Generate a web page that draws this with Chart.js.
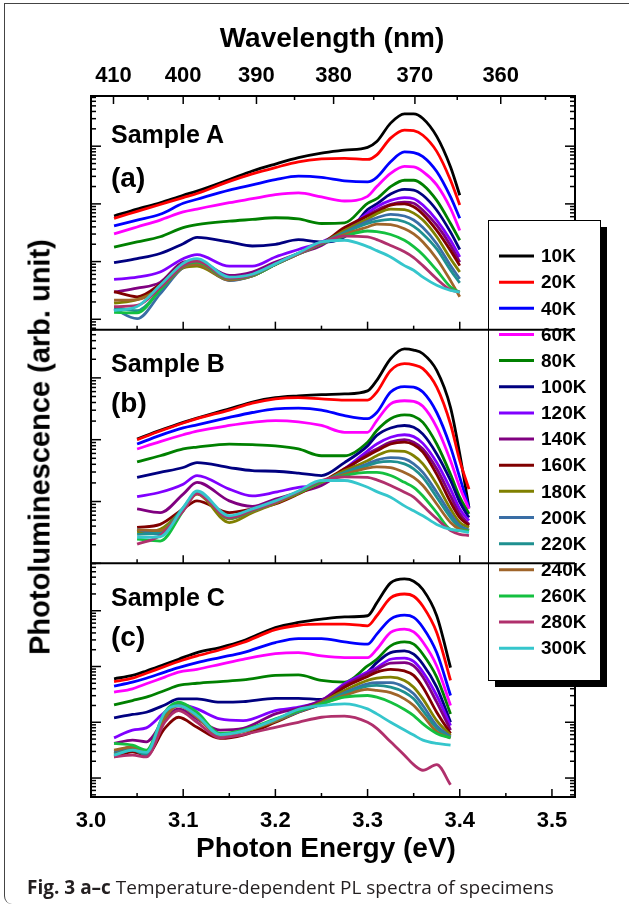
<!DOCTYPE html>
<html>
<head>
<meta charset="utf-8">
<script src="https://cdn.jsdelivr.net/npm/chart.js@4.4.0/dist/chart.umd.min.js"></script>
<style>
  html, body { margin: 0; padding: 0; background: #fff; }
  #wrap { position: relative; width: 629px; height: 910px; overflow: hidden; font-family: "Liberation Sans", Arial, sans-serif; }
  #plot { position: absolute; left: 0; top: 0; }
  .t { position: absolute; font-weight: bold; color: #000; white-space: nowrap; transform: translate(-50%, -50%); }
  .lab { position: absolute; font-weight: bold; color: #000; white-space: nowrap; transform: translateY(-50%); }
  #frame { position: absolute; left: 4px; top: 3px; width: 700px; height: 900px; border-left: 1.5px solid #444; border-top: 1.5px solid #444; border-bottom-left-radius: 8px; }
  #caption { position: absolute; left: 27px; top: 887px; transform: translateY(-50%); font-family: "Open Sans", "Noto Sans", sans-serif; font-size: 19px; color: #231f20; white-space: nowrap; }
</style>
</head>
<body>
<div id="wrap">
  <div id="frame"></div>
  <canvas id="plot" width="629" height="910"></canvas>
  <div class="t" style="left:332px; top:38px; font-size:28px;">Wavelength (nm)</div>
  <div class="t" style="left:326px; top:848px; font-size:28px;">Photon Energy (eV)</div>
  <div class="t" style="left:40px; top:447px; font-size:29px; transform: translate(-50%, -50%) rotate(-90deg);">Photoluminescence (arb. unit)</div>
  <div class="lab" style="left:111px; top:134px; font-size:25px;">Sample A</div>
  <div class="lab" style="left:111px; top:178px; font-size:28px;">(a)</div>
  <div class="lab" style="left:111px; top:363px; font-size:25px;">Sample B</div>
  <div class="lab" style="left:111px; top:403px; font-size:28px;">(b)</div>
  <div class="lab" style="left:111px; top:597px; font-size:25px;">Sample C</div>
  <div class="lab" style="left:111px; top:637px; font-size:28px;">(c)</div>
  <div id="caption"><b>Fig. 3</b> <b>a–c</b> Temperature-dependent PL spectra of specimens</div>
</div>
<script>
// temperatures and line colours (legend order)
const temps = ['10K', '20K', '40K', '60K', '80K', '100K', '120K', '140K', '160K', '180K', '200K', '220K', '240K', '260K', '280K', '300K'];
const colors = ['#000000', '#ff0000', '#0000ff', '#ff00ff', '#008000', '#000080', '#8000ff', '#800080',
                '#800000', '#808000', '#3a6ea5', '#1f9090', '#a0652a', '#14c040', '#b0306c', '#35c6cc'];

// axis ticks
const energyTicks = [3.0, 3.1, 3.2, 3.3, 3.4, 3.5];
const wavelengthTicks = [410, 400, 390, 380, 370, 360];

// photon energy (eV) of the read points, one list per sample
const energyA = [3.025, 3.05, 3.075, 3.10, 3.115, 3.15, 3.175, 3.20, 3.225, 3.25, 3.275, 3.30, 3.31, 3.325, 3.34, 3.35, 3.36, 3.375, 3.39, 3.40];
const energyB = [3.05, 3.075, 3.10, 3.115, 3.15, 3.175, 3.20, 3.225, 3.25, 3.275, 3.30, 3.31, 3.325, 3.34, 3.35, 3.36, 3.375, 3.39, 3.40, 3.41];
const energyC = [3.025, 3.045, 3.06, 3.08, 3.095, 3.115, 3.14, 3.165, 3.20, 3.225, 3.25, 3.275, 3.30, 3.31, 3.325, 3.34, 3.35, 3.36, 3.375, 3.39];

// log10 of PL intensity (arb. unit), one row per temperature
const sampleA = [
  [2.79, 2.91, 3.02, 3.15, 3.22, 3.42, 3.57, 3.69, 3.80, 3.88, 3.93, 3.98, 4.08, 4.40, 4.56, 4.56, 4.48, 4.17, 3.64, 3.15], // 10K
  [2.75, 2.87, 2.99, 3.11, 3.18, 3.39, 3.52, 3.63, 3.73, 3.78, 3.79, 3.77, 3.85, 4.14, 4.28, 4.27, 4.19, 3.91, 3.41, 2.98], // 20K
  [2.62, 2.72, 2.82, 3.01, 3.08, 3.24, 3.33, 3.42, 3.48, 3.46, 3.40, 3.38, 3.46, 3.73, 3.90, 3.89, 3.82, 3.56, 3.12, 2.75], // 40K
  [2.48, 2.60, 2.72, 2.86, 2.91, 3.02, 3.09, 3.16, 3.19, 3.12, 3.05, 3.13, 3.30, 3.53, 3.65, 3.64, 3.56, 3.33, 2.92, 2.54], // 60K
  [2.25, 2.34, 2.43, 2.59, 2.64, 2.70, 2.73, 2.76, 2.74, 2.66, 2.67, 3.01, 3.09, 3.30, 3.41, 3.41, 3.33, 3.06, 2.66, 2.37], // 80K
  [1.98, 2.05, 2.14, 2.31, 2.42, 2.34, 2.27, 2.30, 2.38, 2.34, 2.43, 2.90, 3.00, 3.17, 3.25, 3.24, 3.15, 2.89, 2.51, 2.21], // 100K
  [1.69, 1.73, 1.82, 2.05, 2.12, 1.92, 1.92, 2.08, 2.21, 2.34, 2.54, 2.84, 2.95, 3.06, 3.11, 3.09, 2.98, 2.72, 2.37, 2.08], // 120K
  [1.47, 1.54, 1.64, 1.99, 2.01, 1.76, 1.82, 1.99, 2.14, 2.28, 2.54, 2.80, 2.89, 2.99, 3.03, 3.01, 2.89, 2.63, 2.28, 1.99], // 140K
  [1.48, 1.39, 1.61, 1.95, 1.97, 1.72, 1.77, 1.95, 2.14, 2.31, 2.59, 2.79, 2.86, 2.98, 3.00, 2.95, 2.82, 2.54, 2.19, 1.93], // 160K
  [1.28, 1.34, 1.54, 1.89, 1.92, 1.68, 1.75, 1.95, 2.13, 2.31, 2.54, 2.74, 2.83, 2.91, 2.90, 2.84, 2.72, 2.43, 2.05, 1.82], // 180K
  [1.18, 1.01, 1.44, 1.90, 1.96, 1.67, 1.75, 1.95, 2.13, 2.31, 2.51, 2.70, 2.76, 2.82, 2.79, 2.72, 2.59, 2.31, 1.93, 1.70], // 200K
  [1.21, 1.15, 1.50, 1.93, 1.99, 1.70, 1.76, 1.95, 2.14, 2.31, 2.50, 2.66, 2.70, 2.73, 2.69, 2.61, 2.48, 2.22, 1.85, 1.63], // 220K
  [1.33, 1.34, 1.53, 1.90, 1.95, 1.68, 1.75, 1.95, 2.13, 2.31, 2.47, 2.60, 2.65, 2.64, 2.57, 2.48, 2.34, 2.05, 1.67, 1.39], // 240K
  [1.12, 1.11, 1.51, 1.92, 1.99, 1.70, 1.76, 1.95, 2.14, 2.31, 2.44, 2.53, 2.52, 2.47, 2.37, 2.26, 2.12, 1.85, 1.56, 1.47], // 260K
  [1.22, 1.24, 1.55, 1.93, 2.01, 1.71, 1.77, 1.96, 2.14, 2.32, 2.44, 2.43, 2.38, 2.28, 2.17, 2.07, 1.93, 1.70, 1.51, 1.47], // 280K
  [1.15, 1.22, 1.59, 1.97, 2.05, 1.73, 1.78, 1.96, 2.15, 2.34, 2.37, 2.26, 2.19, 2.08, 1.93, 1.85, 1.73, 1.59, 1.50, 1.47]  // 300K
];

const sampleB = [
  [3.01, 3.15, 3.28, 3.35, 3.50, 3.61, 3.68, 3.71, 3.73, 3.74, 3.79, 3.96, 4.31, 4.47, 4.45, 4.39, 4.12, 3.52, 2.77, 1.90], // 10K
  [3.00, 3.14, 3.27, 3.34, 3.48, 3.59, 3.66, 3.68, 3.66, 3.64, 3.64, 3.77, 4.12, 4.23, 4.21, 4.15, 3.85, 3.25, 2.66, 2.20], // 20K
  [2.93, 3.07, 3.19, 3.24, 3.36, 3.44, 3.50, 3.51, 3.48, 3.39, 3.34, 3.44, 3.77, 3.86, 3.85, 3.77, 3.44, 2.88, 2.39, 1.90], // 40K
  [2.85, 2.97, 3.08, 3.14, 3.23, 3.28, 3.31, 3.29, 3.23, 3.12, 3.12, 3.31, 3.58, 3.63, 3.62, 3.54, 3.20, 2.66, 2.23, 1.88], // 60K
  [2.64, 2.74, 2.85, 2.88, 2.93, 2.92, 2.90, 2.85, 2.74, 2.74, 2.96, 3.15, 3.34, 3.40, 3.38, 3.28, 2.93, 2.44, 2.07, 1.80], // 80K
  [2.39, 2.47, 2.55, 2.63, 2.55, 2.50, 2.49, 2.46, 2.42, 2.63, 2.90, 3.07, 3.19, 3.23, 3.20, 3.09, 2.77, 2.34, 1.99, 1.74], // 100K
  [2.08, 2.15, 2.28, 2.42, 2.20, 2.09, 2.15, 2.23, 2.28, 2.53, 2.82, 2.93, 3.04, 3.08, 3.05, 2.94, 2.63, 2.20, 1.88, 1.69], // 120K
  [1.88, 1.82, 2.12, 2.31, 2.01, 1.92, 2.04, 2.15, 2.26, 2.50, 2.77, 2.85, 2.96, 3.00, 2.96, 2.85, 2.53, 2.09, 1.80, 1.63], // 140K
  [1.58, 1.63, 1.88, 2.01, 1.82, 1.88, 1.96, 2.12, 2.31, 2.53, 2.74, 2.82, 2.93, 2.96, 2.92, 2.80, 2.44, 1.99, 1.74, 1.61], // 160K
  [1.50, 1.55, 1.88, 2.12, 1.66, 1.82, 1.97, 2.13, 2.31, 2.50, 2.66, 2.74, 2.82, 2.81, 2.74, 2.61, 2.28, 1.88, 1.66, 1.58], // 180K
  [1.55, 1.47, 1.88, 2.15, 1.74, 1.85, 1.99, 2.15, 2.31, 2.47, 2.61, 2.67, 2.71, 2.69, 2.61, 2.47, 2.15, 1.80, 1.61, 1.54], // 200K
  [1.47, 1.50, 1.90, 2.15, 1.74, 1.85, 1.99, 2.15, 2.31, 2.47, 2.58, 2.63, 2.65, 2.61, 2.53, 2.39, 2.07, 1.74, 1.58, 1.53], // 220K
  [1.54, 1.53, 1.86, 2.13, 1.72, 1.84, 1.98, 2.15, 2.31, 2.44, 2.54, 2.56, 2.55, 2.47, 2.39, 2.26, 1.96, 1.66, 1.55, 1.52], // 240K
  [1.39, 1.36, 1.85, 2.15, 1.73, 1.85, 1.99, 2.15, 2.32, 2.42, 2.47, 2.47, 2.42, 2.31, 2.23, 2.09, 1.82, 1.55, 1.53, 1.52], // 260K
  [1.31, 1.45, 1.85, 2.13, 1.74, 1.86, 1.99, 2.16, 2.34, 2.40, 2.39, 2.35, 2.26, 2.15, 2.07, 1.93, 1.72, 1.53, 1.47, 1.45], // 280K
  [1.42, 1.43, 1.90, 2.17, 1.77, 1.88, 2.01, 2.17, 2.34, 2.34, 2.23, 2.16, 2.07, 1.93, 1.85, 1.77, 1.63, 1.55, 1.53, 1.50]  // 300K
];

const sampleC = [
  [2.78, 2.84, 2.92, 3.04, 3.13, 3.25, 3.34, 3.46, 3.70, 3.79, 3.85, 3.89, 3.91, 4.14, 4.50, 4.57, 4.53, 4.38, 3.91, 2.98], // 10K
  [2.73, 2.79, 2.88, 3.00, 3.09, 3.19, 3.30, 3.43, 3.66, 3.74, 3.76, 3.76, 3.73, 3.91, 4.23, 4.30, 4.26, 4.08, 3.61, 2.75], // 20K
  [2.65, 2.72, 2.79, 2.90, 2.98, 3.07, 3.16, 3.25, 3.43, 3.50, 3.50, 3.44, 3.40, 3.58, 3.85, 3.92, 3.88, 3.70, 3.25, 2.48], // 40K
  [2.54, 2.60, 2.69, 2.81, 2.90, 2.95, 3.04, 3.13, 3.23, 3.25, 3.19, 3.16, 3.16, 3.31, 3.61, 3.67, 3.62, 3.44, 3.01, 2.30], // 60K
  [2.31, 2.39, 2.45, 2.57, 2.66, 2.70, 2.73, 2.76, 2.84, 2.85, 2.75, 2.72, 3.01, 3.13, 3.37, 3.44, 3.40, 3.22, 2.81, 2.15], // 80K
  [2.08, 2.14, 2.18, 2.31, 2.42, 2.42, 2.36, 2.37, 2.43, 2.43, 2.41, 2.63, 2.90, 3.07, 3.25, 3.28, 3.22, 3.04, 2.63, 2.00], // 100K
  [1.72, 1.86, 1.90, 2.18, 2.33, 2.24, 2.06, 2.03, 2.21, 2.27, 2.39, 2.69, 2.90, 2.98, 3.13, 3.15, 3.09, 2.90, 2.48, 1.94], // 120K
  [1.62, 1.68, 1.65, 2.06, 2.24, 2.06, 1.86, 1.89, 2.15, 2.25, 2.39, 2.66, 2.87, 2.95, 3.06, 3.07, 3.01, 2.81, 2.36, 1.86], // 140K
  [1.38, 1.47, 1.41, 1.89, 2.09, 1.91, 1.71, 1.77, 2.00, 2.18, 2.33, 2.63, 2.82, 2.90, 2.95, 2.92, 2.84, 2.63, 2.18, 1.80], // 160K
  [1.44, 1.53, 1.44, 2.06, 2.33, 2.12, 1.77, 1.83, 2.02, 2.19, 2.36, 2.57, 2.75, 2.79, 2.81, 2.75, 2.63, 2.42, 2.03, 1.77], // 180K
  [1.47, 1.56, 1.41, 2.12, 2.30, 2.09, 1.77, 1.84, 2.03, 2.19, 2.33, 2.53, 2.69, 2.71, 2.71, 2.63, 2.51, 2.30, 1.94, 1.74], // 200K
  [1.41, 1.50, 1.42, 2.12, 2.31, 2.12, 1.77, 1.84, 2.03, 2.19, 2.33, 2.51, 2.65, 2.66, 2.63, 2.54, 2.42, 2.21, 1.89, 1.72], // 220K
  [1.50, 1.56, 1.47, 2.09, 2.30, 2.09, 1.77, 1.84, 2.03, 2.21, 2.33, 2.48, 2.59, 2.57, 2.53, 2.42, 2.30, 2.12, 1.83, 1.72], // 240K
  [1.62, 1.59, 1.50, 2.18, 2.36, 2.18, 1.80, 1.86, 2.06, 2.21, 2.33, 2.45, 2.48, 2.45, 2.36, 2.23, 2.12, 1.97, 1.80, 1.72], // 260K
  [1.38, 1.41, 1.38, 2.00, 2.21, 2.00, 1.72, 1.78, 1.91, 2.00, 2.09, 2.11, 2.00, 1.89, 1.65, 1.41, 1.24, 1.14, 1.24, 0.88], // 280K
  [1.41, 1.50, 1.46, 2.18, 2.30, 2.12, 1.78, 1.84, 2.05, 2.23, 2.30, 2.33, 2.24, 2.15, 2.00, 1.86, 1.77, 1.68, 1.62, 1.59]  // 300K
];

const FONT = 'Liberation Sans';

// build datasets for one panel
function panelSets(energy, rows, axisId) {
  return rows.map((vals, t) => ({
    label: temps[t],
    data: energy.map((e, i) => ({ x: e, y: vals[i] })),
    borderColor: colors[t],
    borderWidth: 2.8,
    pointRadius: 0,
    fill: false,
    cubicInterpolationMode: 'monotone',
    yAxisID: axisId,
    order: 16 - t
  }));
}

function strokeLine(ctx, x1, y1, x2, y2) {
  ctx.beginPath();
  ctx.moveTo(x1, y1);
  ctx.lineTo(x2, y2);
  ctx.stroke();
}

// frame, inward ticks and the legend box
const framePlugin = {
  id: 'framePlugin',
  afterDatasetsDraw(chart) {
    const ctx = chart.ctx;
    const area = chart.chartArea;
    const xs = chart.scales.x;
    ctx.save();
    ctx.strokeStyle = '#000';
    ctx.lineWidth = 1.5;
    ['yA', 'yB', 'yC'].forEach(id => {
      const s = chart.scales[id];
      // log ticks on left and right
      for (let d = Math.floor(s.min); d <= Math.ceil(s.max); d++) {
        for (let k = 1; k <= 9; k++) {
          const v = d + Math.log10(k);
          if (v < s.min || v > s.max) continue;
          const py = s.getPixelForValue(v);
          const len = k === 1 ? 10 : 5;
          strokeLine(ctx, area.left, py, area.left + len, py);
          strokeLine(ctx, area.right, py, area.right - len, py);
        }
      }
      // energy ticks on the bottom edge of each panel
      for (let e = 3.0; e < 3.52; e += 0.05) {
        const px = xs.getPixelForValue(e);
        const major = Math.abs(e * 10 - Math.round(e * 10)) < 0.01;
        strokeLine(ctx, px, s.bottom, px, s.bottom - (major ? 8 : 4));
      }
    });
    // wavelength ticks on the top edge
    for (let w = 410; w >= 355; w -= 5) {
      const px = xs.getPixelForValue(1240 / w);
      strokeLine(ctx, px, area.top, px, area.top + (w % 10 === 0 ? 8 : 4));
    }
    ctx.lineWidth = 2;
    ctx.strokeRect(area.left, area.top, area.right - area.left, area.bottom - area.top);
    ctx.restore();
  },
  afterDraw(chart) {
    const ctx = chart.ctx;
    const area = chart.chartArea;
    ctx.save();
    // legend with drop shadow
    const bx = 488, by = 220, bw = 112, bh = 460;
    ctx.fillStyle = '#000';
    ctx.fillRect(bx + 7, by + 7, bw, bh);
    ctx.fillStyle = '#fff';
    ctx.fillRect(bx, by, bw, bh);
    ctx.strokeStyle = '#000';
    ctx.lineWidth = 1;
    ctx.strokeRect(bx + 0.5, by + 0.5, bw, bh);
    ctx.font = 'bold 19px ' + FONT;
    ctx.textBaseline = 'middle';
    temps.forEach((t, i) => {
      const y = 256 + i * 26.15;
      ctx.strokeStyle = colors[i];
      ctx.lineWidth = 3;
      strokeLine(ctx, 499, y, 534, y);
      ctx.fillStyle = '#000';
      ctx.fillText(t, 541, y + 1);
    });
    // panel dividers run over the legend
    ctx.strokeStyle = '#000';
    ctx.lineWidth = 2;
    ['yA', 'yB'].forEach(id => {
      const yb = chart.scales[id].bottom;
      strokeLine(ctx, area.left, yb, area.right, yb);
    });
    ctx.restore();
  }
};

function yPanel(min, max, weight) {
  return {
    type: 'linear',
    position: 'left',
    stack: 'panels',
    stackWeight: 1,
    weight: weight,
    min: min,
    max: max,
    offset: false,
    grid: { display: false },
    border: { display: false },
    ticks: { display: false },
    afterFit: s => { s.width = 0; }
  };
}

new Chart(document.getElementById('plot'), {
  type: 'line',
  data: {
    datasets: [
      ...panelSets(energyA, sampleA, 'yA'),
      ...panelSets(energyB, sampleB, 'yB'),
      ...panelSets(energyC, sampleC, 'yC')
    ]
  },
  options: {
    responsive: false,
    animation: false,
    layout: { padding: { left: 91, right: 54, top: 0, bottom: 0 } },
    plugins: { legend: { display: false }, tooltip: { enabled: false } },
    scales: {
      x: {
        type: 'linear',
        position: 'bottom',
        min: 3.0,
        max: 3.525,
        grid: { display: false, drawTicks: false },
        border: { display: false },
        afterBuildTicks: s => { s.ticks = energyTicks.map(v => ({ value: v })); },
        afterFit: s => { s.height = 113; },
        ticks: {
          autoSkip: false,
          maxRotation: 0,
          padding: 11,
          color: '#000',
          font: { family: FONT, size: 22, weight: 'bold' },
          callback: v => v.toFixed(1)
        }
      },
      x2: {
        type: 'linear',
        position: 'top',
        min: 3.0,
        max: 3.525,
        grid: { display: false, drawTicks: false },
        border: { display: false },
        afterBuildTicks: s => { s.ticks = wavelengthTicks.map(w => ({ value: 1240 / w })); },
        afterFit: s => { s.height = 96; },
        ticks: {
          autoSkip: false,
          maxRotation: 0,
          padding: 7,
          color: '#000',
          font: { family: FONT, size: 22, weight: 'bold' },
          callback: v => String(Math.round(1240 / v))
        }
      },
      yA: yPanel(0.82, 4.87, 3),
      yB: yPanel(1.0, 4.78, 2),
      yC: yPanel(0.66, 4.85, 1)
    }
  },
  plugins: [framePlugin]
});
</script>
</body>
</html>
